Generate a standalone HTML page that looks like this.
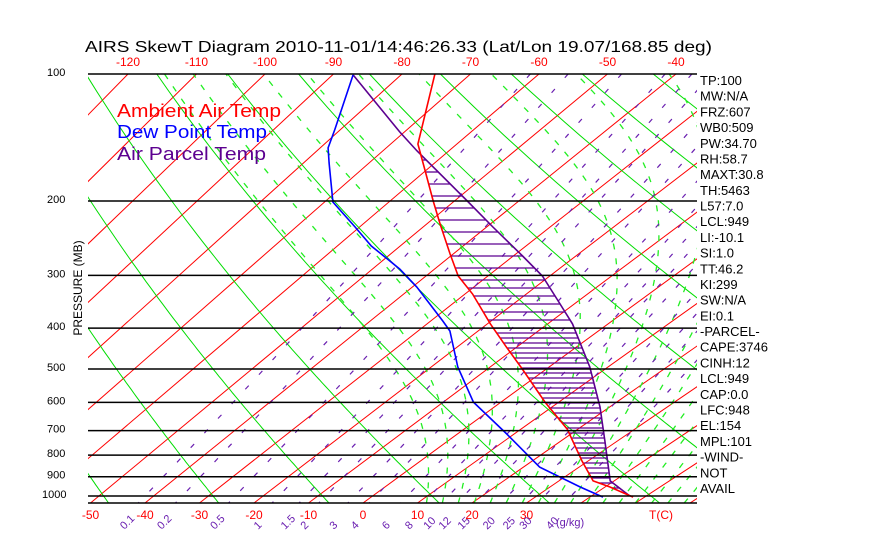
<!DOCTYPE html>
<html><head><meta charset="utf-8"><style>
body{margin:0;background:#fff;}
svg{display:block;font-family:"Liberation Sans",sans-serif;}
</style></head><body>
<svg id="c" width="870" height="560" xmlns="http://www.w3.org/2000/svg">
<defs><clipPath id="plotclip"><rect x="88" y="74" width="609" height="429"/></clipPath></defs>
<text x="85" y="52" font-size="16" textLength="627" lengthAdjust="spacingAndGlyphs">AIRS SkewT Diagram 2010-11-01/14:46:26.33 (Lat/Lon 19.07/168.85 deg)</text>
<g id="plot" clip-path="url(#plotclip)"></g>
<g id="axes"></g>
<text transform="translate(82,288) rotate(-90)" font-size="12" text-anchor="middle">PRESSURE (MB)</text>
<text x="117" y="117" font-size="18" fill="#ff0000" textLength="164" lengthAdjust="spacingAndGlyphs">Ambient Air Temp</text>
<text x="117" y="138" font-size="18" fill="#0000ff" textLength="150" lengthAdjust="spacingAndGlyphs">Dew Point Temp</text>
<text x="117" y="160" font-size="18" fill="#5c0090" textLength="149" lengthAdjust="spacingAndGlyphs">Air Parcel Temp</text>
<g id="info"></g>
</svg>
<script>
// ---- data ----
const ambientP = [100,146.5,169.8,200,226.7,267,301,332,391,444,500,599,694,826,921,952,1006];
const ambientT = [-75.2,-65.9,-60.0,-53.3,-47.9,-40.5,-34.8,-28.8,-19.5,-11.7,-4.1,7.6,18.1,28.9,36.2,40.9,47.9];
const dewP = [100.5,135.7,149.7,162.5,201.1,230.5,255.6,274.5,289.9,319.6,384.8,406.4,494.6,599,713,854,952,1006];
const dewT = [-87.0,-80.8,-78.8,-76.1,-68.7,-60.7,-54.6,-49.5,-45.6,-39.3,-28.0,-24.7,-15.5,-4.8,8.7,22.9,35.5,42.4];
const parcelP = [100.5,137.2,152.2,200,230.5,270,301,345,391,494.6,615,741,921,1000];
const parcelT = [-87.0,-70.7,-64.8,-48.0,-39.0,-28.5,-21.2,-13.3,-5.9,6.9,18.3,27.8,39.3,47.0];
const pressureTicks = [100,200,300,400,500,600,700,800,900,1000];
const bottomTempTicks = [-50,-40,-30,-20,-10,0,10,20,30];
const topTempTicks = [-120,-110,-100,-90,-80,-70,-60,-50,-40];
const mixingRatios = [0.1,0.2,0.5,1,1.5,2,3,4,6,8,10,12,15,20,25,30,40];
const mixingLabels = ["0.1","0.2","0.5","1","1.5","2","3","4","6","8","10","12","15","20","25","30","40"];
const infoLabels = ["TP:100","MW:N/A","FRZ:607","WB0:509","PW:34.70","RH:58.7","MAXT:30.8","TH:5463","L57:7.0","LCL:949","LI:-10.1","SI:1.0","TT:46.2","KI:299","SW:N/A","EI:0.1","-PARCEL-","CAPE:3746","CINH:12","LCL:949","CAP:0.0","LFC:948","EL:154","MPL:101","-WIND-","NOT","AVAIL"];

// ---- axes functions ----
const NS="http://www.w3.org/2000/svg";
const X0=88,X1=697,YT=74,YB=503;
function yP(p){return 74+422*Math.log10(p/100);}
function xTY(T,y){const f=(503-y)/429;return 363+587*f+T*(5.45+1.4*f);}
function xTP(T,p){return xTY(T,yP(p));}
const plot=document.getElementById('plot'),axes=document.getElementById('axes'),info=document.getElementById('info');
function mk(tag,attrs,parent){const e=document.createElementNS(NS,tag);for(const k in attrs)e.setAttribute(k,attrs[k]);parent.appendChild(e);return e;}
function ptsStr(a){return a.map(q=>q[0].toFixed(1)+','+q[1].toFixed(1)).join(' ');}

// isotherms
for(let T=-160;T<=60;T+=10){
  const l=mk('line',{x1:xTY(T,YB),y1:YB,x2:xTY(T,YT),y2:YT,stroke:'#ff0000','stroke-width':1},plot);
  
  
}
// dry adiabats
for(let th=184;th<=600;th+=20){
  const pts=[];
  for(let p=100;p<=1045;p+=10){const T=th*Math.pow(p/1000,0.286)-273.15;pts.push([xTP(T,p),yP(p)]);}
  const l=mk('polyline',{points:ptsStr(pts),fill:'none',stroke:'#00dd00','stroke-width':1},plot);
  
  
}
// moist adiabats
function es(Tc){return 6.112*Math.exp(17.67*Tc/(Tc+243.5));}
function dTdp(T,p){const e=es(T-273.15),rs=0.622*e/Math.max(p-e,1);return (287*T+2.5e6*rs)/(p*(1005+2.5e6*2.5e6*rs*0.622/(287*T*T)));}
for(let T0=10;T0<=64;T0+=3){
  let T=T0+273.15;
  for(let pd=1000;pd<1040;pd+=5){T+=dTdp(T,pd)*5;}
  let p=1040;const pts=[];
  while(p>=100){pts.push([xTP(T-273.15,p),yP(p)]);T-=dTdp(T,p)*5;p-=5;}
  const l=mk('polyline',{points:ptsStr(pts),fill:'none',stroke:'#22ee22','stroke-width':1.3,'stroke-dasharray':'6,9'},plot);
  
  
}
// mixing ratio lines
function tdFromW(w,p){const e=w*p/(622+w);const L=Math.log(e/6.112);return 243.5*L/(17.67-L);}
mixingRatios.forEach(w=>{
  const pts=[];
  for(let p=100;p<=1045;p+=10){pts.push([xTP(tdFromW(w,p),p),yP(p)]);}
  const l=mk('polyline',{points:ptsStr(pts),fill:'none',stroke:'#6a1fb0','stroke-width':1.2,'stroke-dasharray':'5,15'},plot);
  
  
});
// isobars
pressureTicks.forEach(p=>{
  const l=mk('line',{x1:X0,y1:yP(p),x2:X1,y2:yP(p),stroke:'#000','stroke-width':1.5},axes);
  
  
  const t=mk('text',{x:p>=1000?42:47,y:yP(p)+2,'font-size':11},axes);
  t.textContent=p;
  
  
});
const bl=mk('line',{x1:X0,y1:YB,x2:X1,y2:YB,stroke:'#000','stroke-width':1.5},axes);



// interpolation helpers
function curve(P,T){return P.map((p,i)=>[xTP(T[i],p),yP(p)]);}
function xAt(pts,y){for(let i=0;i<pts.length-1;i++){const a=pts[i],b=pts[i+1];if(y>=a[1]&&y<=b[1]){const t=(y-a[1])/(b[1]-a[1]||1);return a[0]+t*(b[0]-a[0]);}}return null;}
const ambPts=curve(ambientP,ambientT),dewPts=curve(dewP,dewT),parPts=curve(parcelP,parcelT);
// hatching (CAPE)
const hatch=mk('g',{},plot);


let yy=160;
while(yy<=494){
  const xa=xAt(ambPts,yy),xp=xAt(parPts,yy);
  if(xa!==null&&xp!==null&&xp>xa){
    const l=mk('line',{x1:xa,y1:yy,x2:xp,y2:yy,stroke:'#5c0090','stroke-width':1.3},hatch);
    
    
  }
  yy+= yy<276?12:(yy<324?8:5);
}
[[parPts,'#5c0090','parcel-temp-line'],[ambPts,'#ff0000','ambient-temp-line'],[dewPts,'#0000ff','dewpoint-line']].forEach(([pts,col,name])=>{
  const l=mk('polyline',{points:ptsStr(pts),fill:'none',stroke:col,'stroke-width':1.6},plot);
  
  
});

// temperature tick labels
bottomTempTicks.forEach(T=>{
  const t=mk('text',{x:xTY(T,YB),y:519,'font-size':12,fill:'#ff0000','text-anchor':'middle'},axes);
  t.textContent=T;
  
  
});
const tc=mk('text',{x:649,y:519,'font-size':12,fill:'#ff0000'},axes);
tc.textContent='T(C)';


topTempTicks.forEach(T=>{
  const t=mk('text',{x:xTY(T,YT),y:66,'font-size':12,fill:'#ff0000','text-anchor':'middle'},axes);
  t.textContent=T;
  
  
});
// mixing ratio labels
mixingRatios.forEach((w,i)=>{
  const x=xTP(tdFromW(w,1039),1039)-14;
  const t=mk('text',{transform:'translate('+x.toFixed(1)+',530) rotate(-45)','font-size':11,fill:'#6a1fb0'},axes);
  t.textContent=mixingLabels[i];
  
  
});
const gk=mk('text',{x:556,y:526,'font-size':11,fill:'#6a1fb0'},axes);
gk.textContent='(g/kg)';


// info list
infoLabels.forEach((s,i)=>{
  const t=mk('text',{x:700,y:85+i*15.69,'font-size':13},info);
  t.textContent=s;
  
  
});
</script>
</body></html>
